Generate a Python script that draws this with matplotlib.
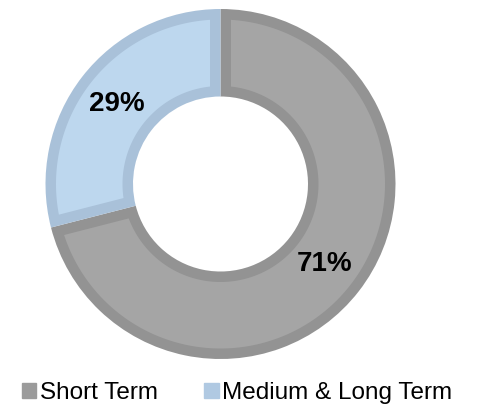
import numpy as np
import matplotlib.pyplot as plt
from matplotlib.patches import Patch, Polygon

plt.rcParams['font.family'] = ['Liberation Sans', 'DejaVu Sans']

labels = ["Short Term", "Medium & Long Term"]
values = [71, 29]
fills = ["#a5a5a5", "#bdd7ee"]
edges = ["#939393", "#a9c1d9"]
legend_colors = ["#9b9b9b", "#b0c9e2"]

W, H = 482, 409
fig = plt.figure(figsize=(W / 100, H / 100), dpi=100)
ax = fig.add_axes([0, 0, 1, 1])

R = 175
r_in = 87.5
b = 10.5  # border width, drawn inside each segment
cx, cy = 220.5, H - 184

# base ring in the border colours
wedges, _, autotexts = ax.pie(values, center=(cx, cy), radius=R,
                              startangle=90, counterclock=False,
                              colors=edges, autopct="%d%%",
                              pctdistance=(R + r_in) / 2 / R,
                              wedgeprops=dict(width=R - r_in, linewidth=0),
                              textprops=dict(fontsize=20, fontweight="bold", color="black"),
                              frame=True)

# inset fill of each segment
def inset(t1, t2):
    ro, ri = R - b, r_in + b
    do, di = np.degrees(np.arcsin(b / ro)), np.degrees(np.arcsin(b / ri))
    a_out = np.radians(np.linspace(t1 + do, t2 - do, 200))
    a_in = np.radians(np.linspace(t2 - di, t1 + di, 200))
    xs = np.concatenate([cx + ro * np.cos(a_out), cx + ri * np.cos(a_in)])
    ys = np.concatenate([cy + ro * np.sin(a_out), cy + ri * np.sin(a_in)])
    return np.column_stack([xs, ys])

for w, fc in zip(wedges, fills):
    ax.add_patch(Polygon(inset(w.theta1, w.theta2), closed=True,
                         facecolor=fc, edgecolor="none", zorder=w.get_zorder() + 0.5))
for t in autotexts:
    t.set_zorder(5)

ax.set_xlim(0, W)
ax.set_ylim(0, H)
ax.set_aspect("equal")
ax.axis("off")

handles = [Patch(facecolor=c, edgecolor=c) for c in legend_colors]
fig.legend(handles, labels, loc="center", bbox_to_anchor=(237 / W, 1 - 393 / H),
           ncol=2, frameon=False, fontsize=17.5, handlelength=0.6, handleheight=0.6,
           handletextpad=0.15, columnspacing=1.9)

fig.savefig("out.png", dpi=100)
